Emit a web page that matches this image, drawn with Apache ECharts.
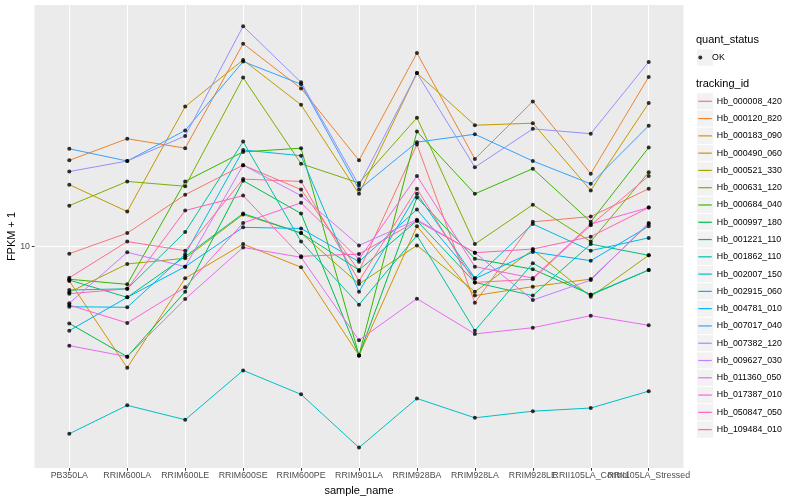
<!DOCTYPE html>
<html><head><meta charset="utf-8">
<script src="https://cdn.jsdelivr.net/npm/echarts@6/dist/echarts.min.js"></script>
<style>html,body{margin:0;padding:0;background:#fff}#c{width:800px;height:500px}</style>
</head><body><div id="c"></div>
<script>
// ---- data (FPKM + 1) ----
const categories = ['PB350LA','RRIM600LA','RRIM600LE','RRIM600SE','RRIM600PE','RRIM901LA','RRIM928BA','RRIM928LA','RRIM928LE','RRII105LA_Control','RRII105LA_Stressed'];
const trackingIds = ['Hb_000008_420','Hb_000120_820','Hb_000183_090','Hb_000490_060','Hb_000521_330','Hb_000631_120','Hb_000684_040','Hb_000997_180','Hb_001221_110','Hb_001862_110','Hb_002007_150','Hb_002915_060','Hb_004781_010','Hb_007017_040','Hb_007382_120','Hb_009627_030','Hb_011360_050','Hb_017387_010','Hb_050847_050','Hb_109484_010'];
const quantStatus = ['OK'];
const yTicks = [10];

const Hb_000008_420 = [9.48, 11.1, 14.9, 18.7, 15.5, 8.30, 21.9, 6.50, 12.1, 12.6, 15.6];
const Hb_000120_820 = [19.4, 22.9, 21.3, 47.5, 33.7, 19.4, 44.2, 19.6, 30.5, 17.5, 36.8];
const Hb_000183_090 = [7.69, 3.95, 7.85, 10.2, 8.54, 4.34, 11.7, 6.87, 7.36, 7.80, 11.9];
const Hb_000490_060 = [16.1, 13.1, 29.3, 41.9, 29.7, 15.0, 37.9, 25.4, 25.8, 15.4, 30.1];
const Hb_000521_330 = [7.05, 8.76, 9.15, 12.8, 11.1, 7.51, 10.1, 7.08, 9.75, 6.81, 9.36];
const Hb_000631_120 = [13.7, 16.5, 15.9, 36.6, 18.9, 16.3, 26.9, 10.2, 13.8, 10.4, 17.7];
const Hb_000684_040 = [7.79, 7.49, 16.5, 20.7, 21.3, 4.34, 24.2, 15.0, 18.2, 12.1, 21.4];
const Hb_000997_180 = [5.55, 4.30, 7.08, 16.6, 12.9, 4.34, 14.6, 9.12, 8.41, 6.93, 8.36];
const Hb_001221_110 = [7.74, 6.78, 9.27, 12.9, 11.1, 8.36, 12.2, 7.60, 6.87, 10.2, 9.36];
const Hb_001862_110 = [7.17, 7.24, 11.2, 22.4, 10.4, 6.41, 10.9, 5.25, 8.81, 6.90, 8.36];
const Hb_002007_150 = [2.38, 2.96, 2.65, 3.87, 3.22, 2.14, 3.12, 2.69, 2.83, 2.90, 3.30];
const Hb_002915_060 = [6.31, 6.28, 9.43, 21.0, 20.1, 7.08, 15.0, 7.86, 11.9, 9.70, 10.7];
const Hb_004781_010 = [5.25, 6.78, 8.58, 11.6, 11.5, 8.91, 13.3, 7.82, 9.60, 8.98, 11.7];
const Hb_007017_040 = [21.2, 19.3, 24.4, 41.4, 34.8, 15.5, 22.3, 23.7, 19.3, 16.2, 25.3];
const Hb_007382_120 = [17.8, 19.3, 23.4, 54.3, 35.3, 16.0, 37.9, 18.4, 24.7, 23.8, 41.3];
const Hb_009627_030 = [6.48, 9.58, 8.58, 18.7, 14.8, 10.1, 12.3, 9.55, 6.64, 7.74, 12.0];
const Hb_011360_050 = [4.68, 4.30, 6.69, 9.94, 9.22, 4.88, 6.71, 5.12, 5.37, 5.89, 5.47];
const Hb_017387_010 = [6.39, 5.57, 7.32, 12.0, 14.0, 9.08, 17.2, 8.58, 7.86, 11.9, 13.5];
const Hb_050847_050 = [6.97, 7.24, 13.2, 14.8, 9.29, 9.45, 12.2, 9.55, 9.82, 10.8, 13.5];
const Hb_109484_010 = [7.88, 10.4, 9.70, 16.8, 16.5, 7.69, 15.6, 7.60, 7.79, 11.8, 17.2];

const seriesValues = [Hb_000008_420, Hb_000120_820, Hb_000183_090, Hb_000490_060, Hb_000521_330,
  Hb_000631_120, Hb_000684_040, Hb_000997_180, Hb_001221_110, Hb_001862_110, Hb_002007_150,
  Hb_002915_060, Hb_004781_010, Hb_007017_040, Hb_007382_120, Hb_009627_030, Hb_011360_050,
  Hb_017387_010, Hb_050847_050, Hb_109484_010];

// ---- style ----
const lineColors = ['#F8766D','#EA8331','#D89000','#C09B00','#A3A500','#7CAE00','#39B600','#00BB4E','#00BF7D','#00C1A3','#00BFC4','#00BAE0','#00B0F6','#35A2FF','#9590FF','#C77CFF','#E76BF3','#FA62DB','#FF62BC','#FF6C91'];
const FONT = '"Liberation Sans", Arial, Helvetica, sans-serif';
const yMin = 1.83, yMax = 63.9;
const keyH = 17.28, keyX = 696.5, keyTop = 92.66, okTop = 48.9;

const lineSeries = seriesValues.map((vals, i) => ({
  name: trackingIds[i], type: 'line', xAxisIndex: 1, yAxisIndex: 1,
  data: vals, symbol: 'none', showSymbol: false,
  lineStyle: { color: lineColors[i], width: 1 },
  itemStyle: { color: lineColors[i] },
  emphasis: { disabled: true }, z: 2
}));
const pointData = [];
seriesValues.forEach(vals => vals.forEach((v, j) => pointData.push([j, v])));
const pointSeries = {
  name: quantStatus[0], type: 'scatter', xAxisIndex: 1, yAxisIndex: 1,
  data: pointData, symbol: 'circle', symbolSize: 4,
  itemStyle: { color: '#000' }, emphasis: { disabled: true }, z: 3
};

const keyRects = [{ type: 'rect', silent: true, z: -1,
  shape: { x: keyX, y: okTop, width: keyH, height: keyH },
  style: { fill: '#F2F2F2', stroke: '#fff', lineWidth: 1 } }];
trackingIds.forEach((n, i) => keyRects.push({ type: 'rect', silent: true, z: -1,
  shape: { x: keyX, y: keyTop + i * keyH, width: keyH, height: keyH },
  style: { fill: '#F2F2F2', stroke: '#fff', lineWidth: 1 } }));

const chart = echarts.init(document.getElementById('c'), null, { renderer: 'canvas' });
chart.setOption({
  animation: false,
  backgroundColor: '#fff',
  textStyle: { fontFamily: FONT },
  title: [
    { text: 'quant_status', left: 696, top: 34, padding: 0,
      textStyle: { fontSize: 11, fontWeight: 'normal', color: '#000', fontFamily: FONT } },
    { text: 'tracking_id', left: 696, top: 78, padding: 0,
      textStyle: { fontSize: 11, fontWeight: 'normal', color: '#000', fontFamily: FONT } }
  ],
  graphic: { elements: keyRects },
  legend: [
    { orient: 'vertical', left: 698.3, top: keyTop, padding: 0, itemGap: 0,
      itemWidth: 13.5, itemHeight: 1.2, icon: 'rect', selectedMode: false,
      textStyle: { fontSize: 8.8, color: '#000', lineHeight: keyH, fontFamily: FONT },
      data: trackingIds.map((n, i) => ({ name: n, itemStyle: { color: lineColors[i], borderWidth: 0 } })) },
    { orient: 'vertical', left: 698.3, top: okTop, padding: 0, itemGap: 0,
      itemWidth: 13.5, itemHeight: 4, icon: 'circle', selectedMode: false,
      textStyle: { fontSize: 8.8, color: '#000', lineHeight: keyH, fontFamily: FONT },
      data: [{ name: quantStatus[0], itemStyle: { color: '#000', borderWidth: 0 } }] }
  ],
  grid: [
    { left: 34.5, top: 5, width: 649, height: 463, show: true, backgroundColor: '#EBEBEB', borderWidth: 0,
      containLabel: false, outerBoundsMode: 'none' },
    { left: 40.33, top: 5, width: 637.34, height: 463, show: false,
      containLabel: false, outerBoundsMode: 'none' }
  ],
  xAxis: [
    { gridIndex: 0, type: 'value', min: 0, max: 1, show: false },
    { gridIndex: 1, type: 'category', data: categories, boundaryGap: true,
      axisLine: { show: false },
      axisTick: { show: true, alignWithLabel: true, interval: 0, length: 2.75, lineStyle: { color: '#333', width: 1 } },
      axisLabel: { interval: 0, hideOverlap: false, fontSize: 8.8, color: '#4D4D4D', margin: 3.5, fontFamily: FONT },
      splitLine: { show: true, alignWithLabel: true, interval: 0, lineStyle: { color: '#fff', width: 1 } },
      name: 'sample_name', nameLocation: 'middle', nameGap: 15.5,
      nameTextStyle: { fontSize: 11, color: '#000', fontFamily: FONT } }
  ],
  yAxis: [
    { gridIndex: 0, type: 'log', logBase: 10, min: yMin, max: yMax,
      axisLine: { show: false },
      axisTick: { show: true, length: 2.75, customValues: yTicks, lineStyle: { color: '#333', width: 1 } },
      axisLabel: { customValues: yTicks, fontSize: 8.8, color: '#4D4D4D', margin: 4.5, fontFamily: FONT },
      splitLine: { show: true, lineStyle: { color: '#fff', width: 1 } },
      name: 'FPKM + 1', nameLocation: 'middle', nameGap: 17, nameMoveOverlap: false,
      nameTextStyle: { fontSize: 11, color: '#000', fontFamily: FONT } },
    { gridIndex: 1, type: 'log', logBase: 10, min: yMin, max: yMax, show: false,
      splitLine: { show: false } }
  ],
  series: lineSeries.concat([pointSeries])
});
</script>
</body></html>
